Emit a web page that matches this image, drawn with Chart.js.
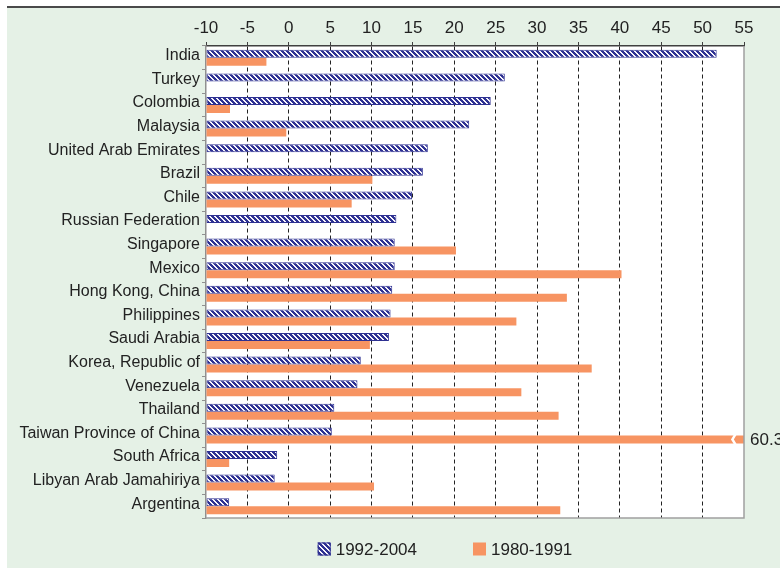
<!DOCTYPE html>
<html>
<head>
<meta charset="utf-8">
<script src="https://cdn.jsdelivr.net/npm/chart.js@4.4.1/dist/chart.umd.min.js"></script>
<style>
  html, body { margin: 0; padding: 0; background: #fff; }
  canvas { display: block; }
</style>
</head>
<body>
<canvas id="chart" width="780" height="570"></canvas>
<script>
// values
const countries = ['India', 'Turkey', 'Colombia', 'Malaysia', 'United Arab Emirates', 'Brazil', 'Chile',
  'Russian Federation', 'Singapore', 'Mexico', 'Hong Kong, China', 'Philippines', 'Saudi Arabia',
  'Korea, Republic of', 'Venezuela', 'Thailand', 'Taiwan Province of China', 'South Africa',
  'Libyan Arab Jamahiriya', 'Argentina'];
const series9204 = [51.7, 26.1, 24.4, 21.8, 16.8, 16.2, 14.9, 13.0, 12.8, 12.8, 12.5, 12.3, 12.1, 8.7, 8.3, 5.5, 5.2, -1.4, -1.7, -7.2];
const series8091 = [-2.7, null, -7.1, -0.3, null, 10.1, 7.6, null, 20.2, 40.2, 33.6, 27.5, 9.8, 36.6, 28.1, 32.6, 60.3, -7.2, 10.3, 32.8];
const seriesNames = ['1992-2004', '1980-1991'];
const axisMin = -10;
const axisMax = 55;
const axisStep = 5;

const navy = '#2e3192';
const orange = '#f79462';
const textColor = '#222222';
const fontFamily = '"Liberation Sans", Arial, Helvetica, sans-serif';

Chart.defaults.font.family = fontFamily;
Chart.defaults.color = textColor;

const ctx = document.getElementById('chart').getContext('2d');

// diagonal hatch for the 1992-2004 bars
const tile = document.createElement('canvas');
tile.width = 5;
tile.height = 5;
const tctx = tile.getContext('2d');
tctx.fillStyle = '#f7f5fb';
tctx.fillRect(0, 0, 5, 5);
tctx.fillStyle = navy;
for (let r = 0; r < 5; r++) {
  for (let k = 0; k < 3; k++) tctx.fillRect((r + k) % 5, r, 1, 1);
}
const hatch = ctx.createPattern(tile, 'repeat');

const frame = {
  id: 'frame',
  beforeDraw(chart) {
    const c = chart.ctx, a = chart.chartArea;
    c.save();
    c.fillStyle = '#e5f1e6';
    c.fillRect(7, 8, chart.width - 7, chart.height - 10);
    c.fillStyle = '#4a4a4a';
    c.fillRect(7, 6, chart.width - 7, 2);
    c.fillStyle = '#ffffff';
    c.fillRect(a.left, a.top, a.right - a.left, a.bottom - a.top);
    c.restore();
  },
  afterDatasetsDraw(chart) {
    const c = chart.ctx, a = chart.chartArea;
    const xs = chart.scales.x;
    const meta = chart.getDatasetMeta(1);
    c.save();
    series8091.forEach((v, i) => {
      if (v == null || v <= axisMax) return;
      const bar = meta.data[i];
      const xb = xs.getPixelForValue(axisMax - 1.4);
      const h = bar.height;
      c.strokeStyle = '#ffffff';
      c.lineWidth = 2.5;
      c.beginPath();
      c.moveTo(xb + 3, bar.y - h / 2 - 1);
      c.lineTo(xb, bar.y);
      c.lineTo(xb + 3, bar.y + h / 2 + 1);
      c.stroke();
      c.fillStyle = textColor;
      c.font = '17px ' + fontFamily;
      c.textAlign = 'left';
      c.textBaseline = 'middle';
      c.fillText(String(v), a.right + 6, bar.y + 1);
    });
    c.restore();
  },
  afterDraw(chart) {
    const c = chart.ctx, a = chart.chartArea;
    c.save();
    // right and bottom frame of the plot
    c.strokeStyle = '#a0a0a0';
    c.lineWidth = 1.5;
    c.beginPath();
    c.moveTo(a.right, a.top);
    c.lineTo(a.right, a.bottom);
    c.lineTo(a.left, a.bottom);
    c.stroke();

    // legend
    const items = [
      { label: seriesNames[0], fill: hatch, border: navy },
      { label: seriesNames[1], fill: orange, border: null }
    ];
    c.font = '17px ' + fontFamily;
    const box = 13, gap = 5, spacing = 56;
    const widths = items.map(it => box + gap + c.measureText(it.label).width);
    const total = widths.reduce((s, w) => s + w, 0) + spacing * (items.length - 1);
    let x = (a.left + a.right) / 2 - 30 - total / 2;
    const y = a.bottom + 31;
    items.forEach((it, i) => {
      c.fillStyle = it.fill;
      c.fillRect(x, y - box / 2, box, box);
      if (it.border) {
        c.strokeStyle = it.border;
        c.lineWidth = 1;
        c.strokeRect(x + 0.5, y - box / 2 + 0.5, box - 1, box - 1);
      }
      c.fillStyle = textColor;
      c.textAlign = 'left';
      c.textBaseline = 'middle';
      c.fillText(it.label, x + box + gap, y + 1);
      x += widths[i] + spacing;
    });
    c.restore();
  }
};

new Chart(ctx, {
  type: 'bar',
  data: {
    labels: countries,
    datasets: [
      {
        label: seriesNames[0],
        data: series9204,
        base: axisMin,
        backgroundColor: hatch,
        borderColor: navy,
        borderWidth: 1,
        borderSkipped: false,
        barPercentage: 1,
        categoryPercentage: 0.68,
        clip: 0
      },
      {
        label: seriesNames[1],
        data: series8091,
        base: axisMin,
        backgroundColor: orange,
        borderWidth: 0,
        barPercentage: 1,
        categoryPercentage: 0.68,
        clip: 0
      }
    ]
  },
  options: {
    indexAxis: 'y',
    responsive: false,
    animation: false,
    layout: { padding: { left: 0, top: 0, right: 36, bottom: 52 } },
    plugins: {
      legend: { display: false },
      tooltip: { enabled: false }
    },
    scales: {
      x: {
        position: 'top',
        min: axisMin,
        max: axisMax,
        afterFit: s => { s.height = 46; },
        ticks: {
          stepSize: axisStep,
          padding: 3,
          color: textColor,
          font: { size: 17 }
        },
        grid: {
          color: c => (c.tick && (c.tick.value === axisMin || c.tick.value === axisMax)) ? 'rgba(0,0,0,0)' : '#222222',
          lineWidth: 1,
          tickLength: 4,
          tickColor: '#404040',
          drawTicks: true
        },
        border: { color: '#404040', width: 1.5, dash: [4, 3] }
      },
      y: {
        position: 'left',
        afterFit: s => { s.width = 206; },
        ticks: {
          autoSkip: false,
          padding: 2,
          labelOffset: -2,
          color: textColor,
          font: { size: 16 }
        },
        grid: {
          offset: true,
          drawOnChartArea: false,
          tickLength: 4,
          color: '#909090'
        },
        border: { color: '#909090', width: 1.5 }
      }
    }
  },
  plugins: [frame]
});
</script>
</body>
</html>
